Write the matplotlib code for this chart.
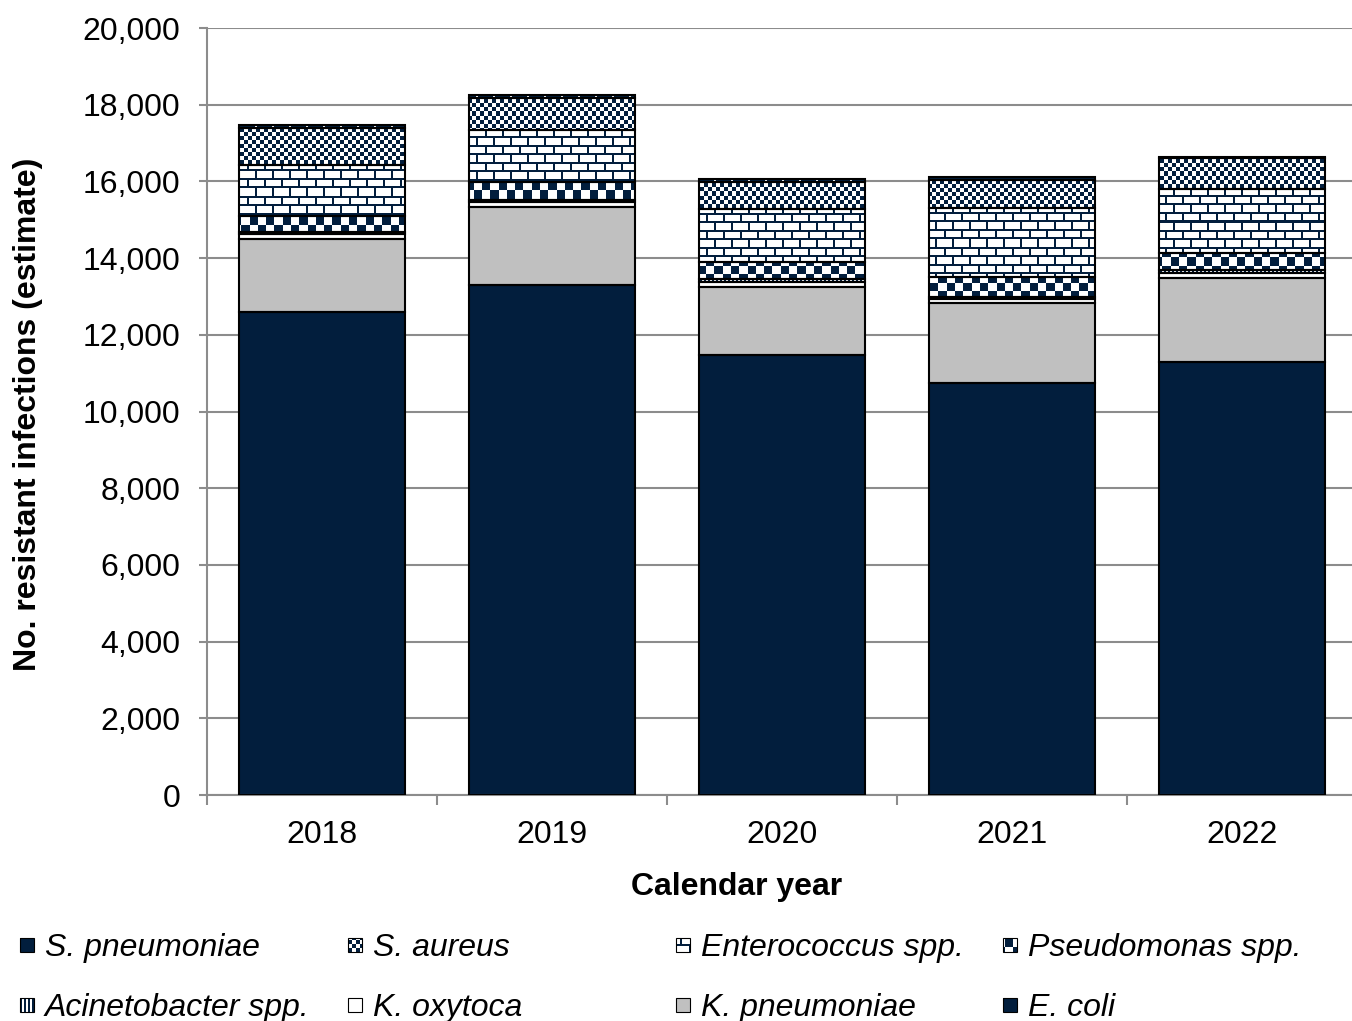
import numpy as np
import matplotlib.pyplot as plt
from matplotlib.patches import Rectangle

plt.rcParams['font.family'] = ['Liberation Sans', 'DejaVu Sans']

years = ['2018', '2019', '2020', '2021', '2022']

# stacked from the bottom up
e_coli = [12590, 13300, 11470, 10745, 11290]
k_pneumoniae = [1910, 2030, 1775, 2085, 2190]
k_oxytoca = [130, 130, 130, 105, 130]
acinetobacter = [50, 55, 80, 50, 80]
pseudomonas = [420, 470, 440, 520, 445]
enterococcus = [1330, 1355, 1380, 1800, 1670]
s_aureus = [960, 835, 705, 730, 810]
s_pneumoniae = [80, 75, 80, 80, 30]

legend_order = ['S. pneumoniae', 'S. aureus', 'Enterococcus spp.', 'Pseudomonas spp.',
                'Acinetobacter spp.', 'K. oxytoca', 'K. pneumoniae', 'E. coli']

W, H = 1352, 1021
NAVY = np.array([0.01, 0.12, 0.24])
WHITE = np.ones(3)
GREY = np.array([0.753, 0.753, 0.753])


def paint(mask):
    return np.where(mask[..., None], NAVY, WHITE)


# pattern painters, X/Y are absolute pixel coords (Y grows downward)
def p_navy(X, Y):
    return paint(np.ones_like(X, dtype=bool))


def p_grey(X, Y):
    return np.broadcast_to(GREY, X.shape + (3,)).copy()


def p_white(X, Y):
    return paint(np.zeros_like(X, dtype=bool))


def p_dots(X, Y):
    return paint(~(((X % 17) < 2) & ((Y % 6) < 2)))


def p_small_check(X, Y):
    return paint(((X // 4 + Y // 4) % 2) == 0)


def p_big_check(X, Y):
    return paint(((np.floor(X / 8.3) + np.floor(Y / 8.3)) % 2) == 0)


def p_bricks(X, Y):
    row = np.floor(Y / 8.5)
    yin = Y - row * 8.5
    xin = (X + (row % 2) * 8.5) % 17
    return paint((yin < 2) | (xin < 2))


def p_vstripes(X, Y):
    return paint((X % 4) < 2)


series = [
    ('E. coli', e_coli, p_navy),
    ('K. pneumoniae', k_pneumoniae, p_grey),
    ('K. oxytoca', k_oxytoca, p_white),
    ('Acinetobacter spp.', acinetobacter, p_vstripes),
    ('Pseudomonas spp.', pseudomonas, p_big_check),
    ('Enterococcus spp.', enterococcus, p_bricks),
    ('S. aureus', s_aureus, p_small_check),
    ('S. pneumoniae', s_pneumoniae, p_dots),
]
painters = {name: fn for name, _, fn in series}

fig = plt.figure(figsize=(W / 100, H / 100), dpi=100)
ax = fig.add_axes([207 / W, (H - 795) / H, (1357 - 207) / W, (795 - 28) / H])
ax.set_xlim(-0.5, 4.5)
ax.set_ylim(0, 20000)

x = np.arange(len(years))
width = 0.72
bottom = np.zeros(len(years))
for name, vals, fn in series:
    vals = np.array(vals, dtype=float)
    bars = ax.bar(x, vals, width, bottom=bottom, color='white', linewidth=0, zorder=2)
    for i, patch in enumerate(bars):
        x0, x1 = x[i] - width / 2, x[i] + width / 2
        y0, y1 = bottom[i], bottom[i] + vals[i]
        (px0, py0), (px1, py1) = ax.transData.transform([(x0, y0), (x1, y1)])
        wpx = max(1, int(round(px1 - px0)))
        hpx = max(1, int(round(py1 - py0)))
        X, Y = np.meshgrid(np.arange(wpx) + int(round(px0)),
                           np.arange(hpx) + int(round(H - py1)))
        im = ax.imshow(fn(X, Y), extent=(x0, x1, y0, y1), origin='upper',
                       aspect='auto', interpolation='nearest', zorder=2.5)
        im.set_clip_path(patch)
    ax.bar(x, vals, width, bottom=bottom, fill=False, edgecolor='black',
           linewidth=1.5, zorder=3)
    bottom += vals

ax.set_xlim(-0.5, 4.5)
ax.set_ylim(0, 20000)

grid_c = '#8c8c8c'
ax.set_axisbelow(True)
ax.yaxis.grid(True, color=grid_c, linewidth=1.5)
for s in ['top', 'right']:
    ax.spines[s].set_visible(False)
for s in ['left', 'bottom']:
    ax.spines[s].set_color(grid_c)
    ax.spines[s].set_linewidth(1.5)

ax.set_yticks(np.arange(0, 20001, 2000))
ax.set_yticklabels([f'{v:,}' for v in range(0, 20001, 2000)])
ax.tick_params(axis='y', length=6, width=1.5, color=grid_c, labelsize=23, pad=13)

ax.set_xticks(x)
ax.set_xticklabels(years)
ax.set_xticks(np.arange(-0.5, 4.6, 1), minor=True)
ax.tick_params(axis='x', which='major', length=0, labelsize=23, pad=18)
ax.tick_params(axis='x', which='minor', length=7, width=1.5, color=grid_c)

ax.set_xlabel('Calendar year', fontsize=23, fontweight='bold')
ax.xaxis.set_label_coords((737 - 207) / 1150, -(887 - 795) / 767)
ax.xaxis.label.set_va('center')
ax.set_ylabel('No. resistant infections (estimate)', fontsize=23, fontweight='bold')
ax.yaxis.set_label_coords((28 - 207) / 1150, (795 - 414) / 767)
ax.yaxis.label.set_va('center')

# legend, laid out as four even columns
col_x = [20, 348, 676, 1003]
row_y = [945, 1005]
msize = 14
for k, name in enumerate(legend_order):
    mx = col_x[k % 4]
    my = row_y[k // 4]
    X, Y = np.meshgrid(np.arange(msize) + mx, np.arange(msize) + my - msize // 2)
    fig.figimage(painters[name](X, Y), xo=mx, yo=H - my - msize // 2,
                 origin='upper', zorder=5)
    fig.add_artist(Rectangle((mx / W, (H - my - msize // 2) / H), msize / W, msize / H,
                             transform=fig.transFigure, fill=False,
                             edgecolor='black', linewidth=0.8, zorder=6))
    fig.text((mx + 25) / W, (H - my - 3) / H, name, fontsize=23, style='italic',
             va='center', ha='left')

fig.savefig('out.png', dpi=100)
